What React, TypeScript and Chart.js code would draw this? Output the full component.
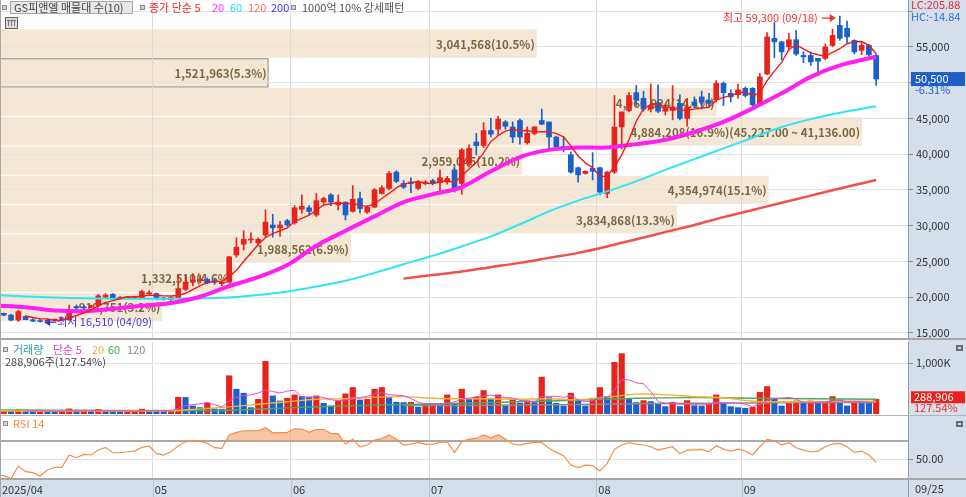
import React, { useEffect, useRef } from 'react';
import { Chart, registerables } from 'chart.js';

Chart.register(...registerables);

const FONT = '"Noto Sans CJK KR", "Noto Sans", "DejaVu Sans", sans-serif';

// ---------------- data (daily, 2025-04-01 .. 2025-09-25) ----------------
const opens = [
  17900, 17750, 17500, 16800, 17300, 16850, 16700, 16650, 16800, 16850,
  16850, 18700, 18650, 18600, 18800, 20000, 20400, 19800, 19900, 19950,
  19900, 20500, 20500, 19900, 19700, 19900, 21100, 22100, 22300, 22500,
  22300, 21900, 22200, 25900, 27400, 28000, 27600, 28700, 30100, 29700,
  30700, 30400, 32300, 32500, 31500, 33300, 34300, 32900, 33300, 32000,
  33800, 31900, 32600, 34500, 35200, 37500, 35900, 36100, 35200, 35900,
  36300, 36000, 36100, 37800, 35900, 38700, 41700, 41200, 43300, 43500,
  44500, 43800, 44700, 41600, 42900, 44700, 44500, 42400, 41100, 39900,
  38100, 37300, 38000, 38100, 34500, 37500, 43800, 46100, 48600, 47800,
  46300, 47200, 46000, 46100, 47100, 45000, 47300, 48000, 47500, 47600,
  49900, 48500, 48300, 49200, 49200, 46900, 51200, 56200, 55700, 55000,
  56000, 53800, 53800, 53400, 53400, 55200, 58000, 57600, 55900, 54500,
  55200, 53800,
];
const highs = [
  18100, 17800, 17600, 18200, 17400, 17000, 16900, 16900, 16950, 17000,
  18900, 18900, 18800, 18900, 20400, 20500, 20500, 20100, 20100, 20150,
  21000, 20900, 20600, 20000, 20100, 23100, 23000, 23300, 23100, 22700,
  22500, 22300, 25700, 28300, 29300, 29000, 28300, 32200, 31600, 30600,
  30900, 32800, 34300, 32800, 34500, 34000, 34500, 34300, 33300, 35600,
  34700, 32800, 35200, 35600, 37600, 37700, 36300, 36700, 36300, 36300,
  36500, 37800, 36900, 38100, 40800, 41300, 42900, 44400, 45000, 45300,
  44700, 44500, 44900, 43800, 43900, 46300, 44500, 42500, 42400, 40300,
  38200, 37700, 40200, 38200, 37600, 48200, 45900, 48600, 49600, 48800,
  49800, 49700, 47000, 49600, 48300, 47800, 48000, 48800, 48500, 50300,
  50100, 49000, 49800, 49400, 49300, 51300, 57000, 58400, 55800, 56900,
  57300, 54300, 54300, 53400, 55400, 57500, 59300, 58600, 56000, 55600,
  55400, 54000,
];
const lows = [
  17500, 17400, 16700, 16600, 16900, 16600, 16510, 16550, 16700, 16750,
  16750, 18300, 18400, 18500, 18700, 19900, 19700, 19700, 19800, 19850,
  19800, 20300, 19700, 19600, 19500, 19800, 20900, 21600, 22000, 21900,
  21800, 21600, 22000, 25600, 26600, 27600, 27300, 28400, 28400, 28500,
  29900, 30200, 31700, 31500, 31300, 33000, 32800, 32200, 30800, 31900,
  31800, 31700, 32500, 34400, 35000, 36000, 35200, 34600, 35000, 35700,
  35700, 34900, 35800, 34700, 34400, 38200, 39900, 40900, 42400, 42700,
  43500, 41600, 41400, 41400, 42700, 44100, 40900, 41000, 40300, 37300,
  36100, 37200, 36400, 34300, 33900, 37300, 40700, 45900, 46800, 46000,
  45900, 45800, 45500, 44800, 44800, 43900, 46500, 46300, 46800, 47300,
  46800, 47300, 47800, 48000, 46700, 46800, 51100, 53500, 53200, 54500,
  53800, 52800, 52400, 51000, 53200, 55000, 55900, 55600, 54000, 53900,
  53300, 49600,
];
const closes = [
  17700, 17500, 16800, 18000, 16850, 16650, 16600, 16800, 16850, 16900,
  18200, 18500, 18500, 18800, 20200, 20300, 19800, 20000, 20000, 20050,
  20800, 20600, 19800, 19700, 19950, 21200, 22100, 22400, 22500, 22000,
  22100, 22100, 25650, 27000, 28100, 28050, 28100, 30500, 29700, 30100,
  30100, 32500, 32700, 32000, 33500, 33800, 33300, 33300, 31500, 33700,
  32400, 32600, 35000, 35300, 37300, 36200, 35400, 35900, 36100, 36100,
  35900, 36700, 36600, 35000, 40600, 40800, 41200, 43300, 42800, 44900,
  43900, 42400, 42400, 42900, 43800, 44200, 42400, 41000, 40700, 37500,
  37100, 37600, 37600, 34700, 37500, 43800, 45900, 48200, 47600, 46300,
  46800, 46000, 46500, 46600, 45000, 46600, 46800, 47300, 47100, 49900,
  48600, 48000, 49000, 48200, 46900, 50800, 56400, 55700, 54300, 56000,
  54000, 53600, 52900, 53000, 55000, 56600, 56200, 56400, 54300, 55200,
  53900, 50500,
];
const volumes = [
  50000, 58000, 52000, 80000, 62000, 55000, 60000, 52000, 48000, 55000,
  100000, 55000, 58000, 50000, 90000, 60000, 52000, 50000, 55000, 57000,
  95000, 60000, 55000, 52000, 58000, 329000, 325000, 158000, 125000, 210000,
  99000, 95000, 750000, 487000, 408000, 125000, 289000, 1032000, 355000, 256000,
  309000, 375000, 342000, 335000, 355000, 210000, 158000, 256000, 395000, 520000,
  276000, 289000, 487000, 520000, 322000, 230000, 224000, 230000, 132000, 197000,
  204000, 191000, 375000, 210000, 487000, 289000, 329000, 460000, 289000, 375000,
  158000, 296000, 210000, 256000, 224000, 723000, 322000, 210000, 158000, 408000,
  276000, 158000, 309000, 519000, 342000, 1013000, 1184000, 289000, 224000, 263000,
  243000, 191000, 145000, 230000, 145000, 263000, 164000, 158000, 197000, 375000,
  210000, 145000, 125000, 112000, 130000, 427000, 539000, 296000, 158000, 210000,
  256000, 210000, 256000, 224000, 230000, 342000, 276000, 158000, 240000, 230000,
  226524, 288906,
];
const rsi14 = [
  33, 31.6, 28.5, 42.3, 36, 34.9, 31.2, 37.9, 40.9, 40.9,
  54.6, 51.6, 55.3, 54.6, 60.1, 63.1, 57.1, 57.1, 58.2, 59,
  63.1, 64.6, 56.4, 54.6, 58.2, 64.6, 69.3, 70.9, 70.2, 67.5,
  62.7, 62, 76.8, 79.8, 81.6, 81.6, 81.6, 84.9, 79.3, 79.5,
  79.8, 83.8, 83.5, 79.8, 83, 83, 78.7, 78.3, 66.8, 72,
  63.8, 65.7, 71.2, 73, 76.8, 72, 65.7, 66.8, 68.6, 66.4,
  66.8, 68.6, 69.3, 57.5, 69.3, 72.3, 73, 77, 73.8, 77.1,
  72.3, 66.8, 65.7, 67.5, 68.6, 68.6, 62, 57.5, 53.8, 43.4,
  40.5, 43.4, 42.7, 36.8, 45.3, 60.9, 65.7, 68.2, 66.8, 65.7,
  63.8, 60.1, 62, 63.8, 56, 60.1, 60.4, 60.8, 58.2, 64.9,
  61.2, 59, 61.2, 59, 54.6, 63.8, 72, 70.5, 65.7, 68.2,
  62.7, 60.1, 58.2, 59, 63.8, 66.8, 67.5, 63.8, 57.5, 59,
  54.6, 46.4,
];

const ma20Idx = [0, 4, 8, 12, 16, 20, 24, 28, 32, 36, 40, 44, 48, 52, 56, 60, 64, 68, 72, 76, 80, 84, 88, 92, 96, 100, 104, 108, 112, 116, 120, 121];
const ma20Vals = [18850, 18600, 18150, 18050, 18400, 18800, 19200, 20070, 21550, 22800, 24500, 27200, 29300, 31300, 33300, 34400, 35400, 37600, 39600, 40600, 40930, 40930, 41400, 42000, 43100, 44500, 46400, 48500, 50800, 52400, 53400, 53600];
const ma60Idx = [0, 4, 8, 12, 16, 20, 24, 28, 32, 36, 40, 44, 48, 52, 56, 60, 64, 68, 72, 76, 80, 84, 88, 92, 96, 100, 104, 108, 112, 116, 121];
const ma60Vals = [20300, 20100, 19950, 19850, 19800, 19800, 19800, 19850, 19950, 20300, 20800, 21500, 22300, 23400, 24600, 25800, 27100, 28500, 30200, 32000, 33500, 34800, 36200, 37800, 39300, 40800, 42300, 43800, 44900, 45800, 46700];
const ma120Idx = [56, 60, 64, 68, 72, 76, 80, 84, 88, 92, 96, 100, 104, 108, 112, 116, 121];
const ma120Vals = [22600, 23100, 23600, 24200, 24800, 25500, 26200, 27100, 28100, 29100, 30100, 31200, 32200, 33200, 34200, 35200, 36400];

const volMa20Idx = [0, 8, 16, 24, 28, 32, 36, 40, 44, 48, 52, 56, 60, 64, 68, 72, 76, 80, 84, 88, 92, 96, 100, 104, 108, 112, 116, 121];
const volMa20Vals = [60000, 58000, 60000, 62000, 100000, 140000, 190000, 240000, 290000, 300000, 330000, 340000, 310000, 300000, 300000, 290000, 300000, 280000, 330000, 390000, 380000, 340000, 320000, 250000, 240000, 245000, 250000, 250000];
const volMa60Idx = [0, 8, 16, 24, 32, 40, 48, 56, 64, 72, 80, 88, 96, 104, 112, 121];
const volMa60Vals = [80000, 76000, 72000, 70000, 75000, 120000, 160000, 185000, 210000, 240000, 270000, 310000, 322000, 310000, 298000, 290000];
const volMa120Idx = [56, 64, 72, 80, 88, 96, 104, 112, 121];
const volMa120Vals = [160000, 168000, 176000, 185000, 200000, 210000, 215000, 220000, 225000];

// volume profile (매물대) bins
const profileLow = [16590, 20681, 24772, 28863, 32954, 37045, 41136, 45227, 49318, 53409];
const profileHigh = [20681, 24772, 28863, 32954, 37045, 41136, 45227, 49318, 53409, 57500];
const profileVol = [919751, 1332510, 1988562, 3834868, 4354974, 2959045, 4884208, 4060924, 1521963, 3041568];

// axis / tick labels
const monthStartIdx = [0, 22, 41, 60, 83, 103];
const monthLabels = ['2025/04', '05', '06', '07', '08', '09'];
const lastDateLabel = '09/25';
const highDateLabel = '09/18';
const lowDateLabel = '04/09';
const priceTicks = [15000, 20000, 25000, 30000, 35000, 40000, 45000, 50000, 55000, 60000];
const volumeTicks = [1000000];
const rsiTicks = [50, 70];
const lcText = 'LC:205.88';
const hcText = 'HC:-14.84';

// ---------------- styling ----------------
const UP = '#e8231b';
const DOWN = '#1b5fca';
const AXIS_BG = '#d5dfeb';
const GRID = '#e2e2e2';
const VGRID = '#d9d9d9';
const SEP = '#a6a6a6';
const X_MIN = 0.48;
const X_MAX = 125.38;
const PROFILE_MAX = 5145000;

const fmt = (v: number) => v.toLocaleString('en-US');
const monthTickValues = monthStartIdx.map((i) => Math.max(i - 0.5, X_MIN));

function txt(ctx: any, s: string, x: number, y: number, color: string, font = `11px ${FONT}`, align: CanvasTextAlign = 'left') {
  ctx.save();
  ctx.font = font;
  ctx.fillStyle = color;
  ctx.textAlign = align;
  ctx.textBaseline = 'middle';
  ctx.fillText(s, x, y);
  ctx.restore();
}
function square(ctx: any, x: number, y: number) {
  ctx.save();
  ctx.fillStyle = '#8c8c8c';
  ctx.fillRect(x, y - 2, 5, 5);
  ctx.fillStyle = '#d0d0d0';
  ctx.fillRect(x + 1, y - 1, 3, 3);
  ctx.restore();
}
function tinyIcon(ctx: any, x: number, y: number) {
  ctx.save();
  ctx.fillStyle = '#6d6d6d';
  ctx.fillRect(x, y, 7, 6);
  ctx.fillStyle = '#d8d8d8';
  ctx.fillRect(x + 2, y + 2, 3, 2);
  ctx.restore();
}

function xAxis(withLabels: boolean): any {
  return {
    type: 'linear',
    min: X_MIN,
    max: X_MAX,
    offset: false,
    afterBuildTicks: (s: any) => {
      s.ticks = monthTickValues.map((v) => ({ value: v }));
    },
    grid: { color: VGRID, lineWidth: 1, drawTicks: false, offset: false },
    border: { display: false },
    ticks: {
      display: withLabels,
      autoSkip: false,
      maxRotation: 0,
      minRotation: 0,
      align: 'start',
      labelOffset: 2,
      padding: 5,
      color: '#333',
      font: { size: 11, family: FONT },
      callback: (v: number) => {
        const k = monthTickValues.indexOf(v);
        return k >= 0 ? monthLabels[k] : '';
      },
    },
    afterFit: (s: any) => {
      s.paddingLeft = 0;
      s.paddingRight = 0;
      s.height = withLabels ? 19 : 0;
    },
  };
}

// an invisible horizontal axis laid out exactly like x, used for the volume-profile widths
function profileAxis(): any {
  return {
    type: 'linear',
    axis: 'x',
    position: 'bottom',
    min: 0,
    max: PROFILE_MAX,
    offset: false,
    grid: { display: false, drawTicks: false, offset: false },
    border: { display: false },
    ticks: { display: false },
    afterFit: (s: any) => {
      s.paddingLeft = 0;
      s.paddingRight = 0;
      s.height = 0;
    },
  };
}

function yAxisBase(min: number, max: number, ticks: number[], label: (v: number) => string): any {
  return {
    position: 'right',
    min,
    max,
    afterBuildTicks: (s: any) => {
      s.ticks = ticks.map((v) => ({ value: v }));
    },
    grid: { color: GRID, tickColor: '#8a8a8a', tickLength: 5, drawTicks: true },
    border: { display: true, color: '#9b9b9b' },
    ticks: { color: '#333', padding: 3, font: { size: 11, family: FONT }, callback: (v: number) => label(v) },
    afterFit: (s: any) => {
      s.width = 58;
      s.paddingTop = 0;
      s.paddingBottom = 0;
    },
  };
}

const candleColor = (i: number) => (closes[i] >= opens[i] ? UP : DOWN);
const volColor = (i: number) => (i > 0 && volumes[i] > volumes[i - 1] ? UP : DOWN);

const bgPlugin = {
  id: 'panelBg',
  beforeDraw(chart: any) {
    const { ctx, chartArea: a, width, height } = chart;
    ctx.save();
    ctx.fillStyle = '#ffffff';
    ctx.fillRect(0, 0, width, height);
    ctx.fillStyle = AXIS_BG;
    ctx.fillRect(a.right, 0, width - a.right, height);
    ctx.restore();
  },
};

function priceConfig(): any {
  const idx = closes.map((_, i) => i);
  const ma5: any[] = [];
  for (let i = 4; i < closes.length; i++) {
    let s = 0;
    for (let k = i - 4; k <= i; k++) s += closes[k];
    ma5.push({ x: i, y: s / 5 });
  }
  const pts = (ix: number[], vs: number[]) => ix.map((x, k) => ({ x, y: vs[k] }));
  const plugin = {
    id: 'pricePanel',
    beforeDraw(chart: any) {
      const { ctx, chartArea: a } = chart;
      const y = chart.scales.y;
      const xp = chart.scales.xp;
      const cur = closes[closes.length - 1];
      ctx.save();
      profileVol.forEach((v, k) => {
        const yTop = y.getPixelForValue(profileHigh[k]);
        const yBot = y.getPixelForValue(profileLow[k]);
        const xr = xp.getPixelForValue(v);
        ctx.fillStyle = '#f5e7d5';
        ctx.fillRect(a.left, yTop + 0.5, xr - a.left, yBot - yTop - 1);
        if (cur >= profileLow[k] && cur < profileHigh[k]) {
          ctx.strokeStyle = '#8e8e8e';
          ctx.lineWidth = 1;
          ctx.strokeRect(a.left + 0.5, yTop + 0.5, xr - a.left - 1, yBot - yTop - 1);
        }
      });
      ctx.restore();
    },
    beforeDatasetsDraw(chart: any) {
      const { ctx } = chart;
      const y = chart.scales.y;
      const xp = chart.scales.xp;
      const total = profileVol.reduce((s, v) => s + v, 0);
      const maxK = profileVol.indexOf(Math.max(...profileVol));
      profileVol.forEach((v, k) => {
        const yc = (y.getPixelForValue(profileHigh[k]) + y.getPixelForValue(profileLow[k])) / 2 + 1;
        const xr = xp.getPixelForValue(v);
        let s = `${fmt(v)}(${((v / total) * 100).toFixed(1)}%)`;
        if (k === maxK) {
          const f2 = (n: number) => n.toLocaleString('en-US', { minimumFractionDigits: 2, maximumFractionDigits: 2 });
          s += `(${f2(profileHigh[k])} ~ ${f2(profileLow[k])})`;
        }
        txt(ctx, s, xr - 2, yc, '#7a6840', `bold 11.5px ${FONT}`, 'right');
      });
    },
    afterDraw(chart: any) {
      const { ctx, chartArea: a, width } = chart;
      const x = chart.scales.x;
      const y = chart.scales.y;
      // top legend
      square(ctx, 2, 7);
      ctx.save();
      ctx.fillStyle = '#e8e8e8';
      ctx.fillRect(10, 1, 123, 13);
      ctx.strokeStyle = '#a8a8a8';
      ctx.lineWidth = 1;
      ctx.strokeRect(10.5, 1.5, 122, 12);
      ctx.restore();
      txt(ctx, 'GS피앤엘 매물대 수(10)', 14, 8, '#444');
      square(ctx, 140, 7);
      txt(ctx, '종가 단순 5', 149, 8, '#ff2222');
      txt(ctx, '20', 212, 8, '#ff33ff');
      txt(ctx, '60', 230, 8, '#22e0ee');
      txt(ctx, '120', 248, 8, '#ff6464');
      txt(ctx, '200', 271, 8, '#3333ff');
      square(ctx, 291, 7);
      txt(ctx, '1000억 10% 강세패턴', 302, 8, '#555');
      // small icon
      ctx.save();
      ctx.fillStyle = '#dcdcdc';
      ctx.fillRect(5, 17, 13, 12);
      ctx.strokeStyle = '#666';
      ctx.strokeRect(5.5, 17.5, 12, 11);
      ctx.fillStyle = '#777';
      ctx.fillRect(8, 20, 1, 6);
      ctx.fillRect(11, 20, 1, 6);
      ctx.fillRect(14, 20, 1, 6);
      ctx.fillRect(7, 20, 9, 1);
      ctx.restore();

      // highest / lowest annotations
      const hi = Math.max(...highs);
      const hiI = highs.indexOf(hi);
      const hx = x.getPixelForValue(hiI);
      const hy = y.getPixelForValue(hi) + 2;
      txt(ctx, `최고 ${fmt(hi)} (${highDateLabel})`, hx - 22, hy, '#f03030', `11px ${FONT}`, 'right');
      ctx.save();
      ctx.strokeStyle = '#f03030';
      ctx.fillStyle = '#f03030';
      ctx.lineWidth = 1.3;
      ctx.beginPath();
      ctx.moveTo(hx - 18, hy);
      ctx.lineTo(hx - 9, hy);
      ctx.stroke();
      ctx.beginPath();
      ctx.moveTo(hx - 4, hy);
      ctx.lineTo(hx - 10, hy - 4);
      ctx.lineTo(hx - 10, hy + 4);
      ctx.closePath();
      ctx.fill();
      ctx.restore();

      const lo = Math.min(...lows);
      const loI = lows.indexOf(lo);
      const lx = x.getPixelForValue(loI) + 4;
      const ly = y.getPixelForValue(lo);
      ctx.save();
      ctx.strokeStyle = '#2b3fd8';
      ctx.fillStyle = '#2b3fd8';
      ctx.lineWidth = 1.3;
      ctx.beginPath();
      ctx.moveTo(lx, ly);
      ctx.lineTo(lx + 6, ly - 4);
      ctx.lineTo(lx + 6, ly + 4);
      ctx.closePath();
      ctx.fill();
      ctx.beginPath();
      ctx.moveTo(lx + 5, ly);
      ctx.lineTo(lx + 12, ly);
      ctx.stroke();
      ctx.restore();
      txt(ctx, `최저 ${fmt(lo)} (${lowDateLabel})`, lx + 13, ly, '#3a3ad8');

      // right axis badges
      txt(ctx, lcText, a.right + 3, 5, '#e03030');
      txt(ctx, hcText, a.right + 3, 17, '#3070d0');
      const last = closes[closes.length - 1];
      const prev = closes[closes.length - 2];
      const py = y.getPixelForValue(last);
      ctx.save();
      ctx.fillStyle = '#1e5fc6';
      ctx.fillRect(a.right + 3, py - 7, 54, 14);
      ctx.restore();
      txt(ctx, fmt(last), a.right + 7, py, '#ffffff');
      txt(ctx, `${((last / prev - 1) * 100).toFixed(2)}%`, a.right + 7, py + 11, '#2a62c8');

      // borders
      ctx.save();
      ctx.fillStyle = SEP;
      ctx.fillRect(0, a.bottom, width, 2);
      ctx.fillRect(0, 0, 1, a.bottom);
      ctx.restore();
    },
  };

  return {
    type: 'bar',
    data: {
      datasets: [
        { type: 'line', label: 'MA5', data: ma5, borderColor: '#f01c1c', borderWidth: 1.4, pointRadius: 0, tension: 0, order: 0, xAxisID: 'x', yAxisID: 'y' },
        { type: 'line', label: 'MA20', data: pts(ma20Idx, ma20Vals), borderColor: '#ff1ff2', borderWidth: 4, pointRadius: 0, tension: 0.3, order: 1, xAxisID: 'x', yAxisID: 'y' },
        { type: 'line', label: 'MA60', data: pts(ma60Idx, ma60Vals), borderColor: '#2ee6f2', borderWidth: 2, pointRadius: 0, tension: 0.3, order: 1, xAxisID: 'x', yAxisID: 'y' },
        { type: 'line', label: 'MA120', data: pts(ma120Idx, ma120Vals), borderColor: '#f2504a', borderWidth: 2.5, pointRadius: 0, tension: 0.3, order: 1, xAxisID: 'x', yAxisID: 'y' },
        {
          type: 'bar', label: 'body', data: idx.map((i) => ({ x: i, y: [opens[i], closes[i]] })),
          backgroundColor: idx.map(candleColor), borderWidth: 0, barThickness: 5, minBarLength: 1, grouped: false, order: 2, xAxisID: 'x', yAxisID: 'y',
        },
        {
          type: 'bar', label: 'wick', data: idx.map((i) => ({ x: i, y: [lows[i], highs[i]] })),
          backgroundColor: idx.map(candleColor), borderWidth: 0, barThickness: 1, grouped: false, order: 3, xAxisID: 'x', yAxisID: 'y',
        },
      ],
    },
    options: {
      animation: false,
      responsive: false,
      events: [],
      layout: { padding: { left: 0, right: 0, top: 0, bottom: 2 } },
      plugins: { legend: { display: false }, tooltip: { enabled: false } },
      scales: {
        x: xAxis(false),
        xp: profileAxis(),
        y: yAxisBase(14300, 61550, priceTicks, (v) => (v === 50000 || v === 60000 ? '' : fmt(v))),
      },
    },
    plugins: [bgPlugin, plugin],
  };
}

function volumeConfig(): any {
  const idx = volumes.map((_, i) => i);
  const ma5: any[] = [];
  for (let i = 4; i < volumes.length; i++) {
    let s = 0;
    for (let k = i - 4; k <= i; k++) s += volumes[k];
    ma5.push({ x: i, y: s / 5 });
  }
  const pts = (ix: number[], vs: number[]) => ix.map((x, k) => ({ x, y: vs[k] }));
  const plugin = {
    id: 'volPanel',
    afterDraw(chart: any) {
      const { ctx, chartArea: a, width, height } = chart;
      const y = chart.scales.y;
      square(ctx, 3, 9);
      txt(ctx, '거래량', 13, 10, '#2f9ea8');
      txt(ctx, '단순 5', 53, 10, '#e040d0');
      txt(ctx, '20', 92, 10, '#f0b030');
      txt(ctx, '60', 108, 10, '#3fae52');
      txt(ctx, '120', 127, 10, '#8f8f8f');
      const last = volumes[volumes.length - 1];
      const prev = volumes[volumes.length - 2];
      const pct = ((last / prev) * 100).toFixed(2);
      txt(ctx, `${fmt(last)}주(${pct}%)`, 5, 22, '#444');
      const vy = y.getPixelForValue(last) - 2;
      ctx.save();
      ctx.fillStyle = UP;
      ctx.fillRect(a.right + 3, vy - 6, 54, 12);
      ctx.restore();
      txt(ctx, fmt(last), a.right + 6, vy, '#ffffff');
      txt(ctx, `${pct}%`, a.right + 6, vy + 11, '#e83030');
      tinyIcon(ctx, width - 10, 5);
      ctx.save();
      ctx.fillStyle = '#b4b4b4';
      ctx.fillRect(0, height - 1, width, 1);
      ctx.fillStyle = SEP;
      ctx.fillRect(0, 0, 1, height);
      ctx.restore();
    },
  };
  return {
    type: 'bar',
    data: {
      datasets: [
        { type: 'line', data: ma5, borderColor: '#e24bd6', borderWidth: 1, pointRadius: 0, tension: 0, order: 0, xAxisID: 'x', yAxisID: 'y' },
        { type: 'line', data: pts(volMa20Idx, volMa20Vals), borderColor: '#f2b134', borderWidth: 1.4, pointRadius: 0, tension: 0.3, order: 1, xAxisID: 'x', yAxisID: 'y' },
        { type: 'line', data: pts(volMa60Idx, volMa60Vals), borderColor: '#4dab5a', borderWidth: 1.4, pointRadius: 0, tension: 0.3, order: 1, xAxisID: 'x', yAxisID: 'y' },
        { type: 'line', data: pts(volMa120Idx, volMa120Vals), borderColor: '#8c8c8c', borderWidth: 1.4, pointRadius: 0, tension: 0.3, order: 1, xAxisID: 'x', yAxisID: 'y' },
        {
          type: 'bar', data: idx.map((i) => ({ x: i, y: volumes[i] })), backgroundColor: idx.map(volColor),
          borderWidth: 0, barThickness: 5.5, grouped: false, order: 2, xAxisID: 'x', yAxisID: 'y',
        },
      ],
    },
    options: {
      animation: false,
      responsive: false,
      events: [],
      layout: { padding: { left: 0, right: 0, top: 2, bottom: 2 } },
      plugins: { legend: { display: false }, tooltip: { enabled: false } },
      scales: {
        x: xAxis(false),
        y: yAxisBase(0, 1412000, volumeTicks, (v) => `${fmt(v / 1000)}K`),
      },
    },
    plugins: [bgPlugin, plugin],
  };
}

function rsiConfig(): any {
  const yAx = yAxisBase(29, 98, rsiTicks, (v) => (v === 50 ? v.toFixed(2) : ''));
  yAx.grid = {
    color: (c: any) => (c.tick && c.tick.value === 70 ? '#a9a9a9' : GRID),
    lineWidth: (c: any) => (c.tick && c.tick.value === 70 ? 2 : 1),
    tickColor: (c: any) => (c.tick && c.tick.value === 50 ? '#8a8a8a' : 'rgba(0,0,0,0)'),
    tickLength: 5,
    drawTicks: true,
  };
  const plugin = {
    id: 'rsiPanel',
    beforeDraw(chart: any) {
      const { ctx, chartArea: a, width, height } = chart;
      ctx.save();
      ctx.fillStyle = AXIS_BG;
      ctx.fillRect(0, a.bottom, width, height - a.bottom);
      ctx.restore();
    },
    afterDraw(chart: any) {
      const { ctx, chartArea: a, width, height } = chart;
      const x = chart.scales.x;
      square(ctx, 3, 7);
      txt(ctx, 'RSI 14', 13, 8, '#f58a40');
      tinyIcon(ctx, width - 10, 5);
      ctx.save();
      ctx.fillStyle = '#b8c2ce';
      monthTickValues.forEach((v) => {
        const px = Math.round(x.getPixelForValue(v));
        ctx.fillRect(px, a.bottom + 2, 1, height - a.bottom - 2);
      });
      ctx.fillStyle = '#9b9b9b';
      ctx.fillRect(a.right, a.bottom, 1, height - a.bottom);
      ctx.fillStyle = SEP;
      ctx.fillRect(0, a.bottom, width, 2);
      ctx.fillRect(0, 0, 1, height);
      ctx.restore();
      txt(ctx, lastDateLabel, a.right + 7, a.bottom + 11, '#333');
    },
  };
  return {
    type: 'line',
    data: {
      datasets: [
        {
          data: rsi14.map((v, i) => ({ x: i, y: v })),
          borderColor: '#f98c45',
          borderWidth: 1.2,
          pointRadius: 0,
          tension: 0,
          fill: { target: { value: 70 }, above: 'rgba(244,158,104,0.6)', below: 'rgba(0,0,0,0)' },
        },
      ],
    },
    options: {
      animation: false,
      responsive: false,
      events: [],
      layout: { padding: 0 },
      plugins: { legend: { display: false }, tooltip: { enabled: false } },
      scales: { x: xAxis(true), y: yAx },
    },
    plugins: [bgPlugin, plugin],
  };
}

export default function App() {
  const priceRef = useRef<HTMLCanvasElement>(null);
  const volRef = useRef<HTMLCanvasElement>(null);
  const rsiRef = useRef<HTMLCanvasElement>(null);

  useEffect(() => {
    document.body.style.margin = '0';
    Chart.defaults.font.family = FONT;
    const charts: Chart[] = [];
    if (priceRef.current) charts.push(new Chart(priceRef.current, priceConfig()));
    if (volRef.current) charts.push(new Chart(volRef.current, volumeConfig()));
    if (rsiRef.current) charts.push(new Chart(rsiRef.current, rsiConfig()));
    return () => charts.forEach((c) => c.destroy());
  }, []);

  return (
    <div style={{ position: 'absolute', left: 0, top: 0, width: 966, height: 497, overflow: 'hidden', background: '#fff' }}>
      <canvas ref={priceRef} width={966} height={340} style={{ position: 'absolute', left: 0, top: 0, width: 966, height: 340 }} />
      <canvas ref={volRef} width={966} height={76} style={{ position: 'absolute', left: 0, top: 340, width: 966, height: 76 }} />
      <canvas ref={rsiRef} width={966} height={81} style={{ position: 'absolute', left: 0, top: 416, width: 966, height: 81 }} />
    </div>
  );
}
